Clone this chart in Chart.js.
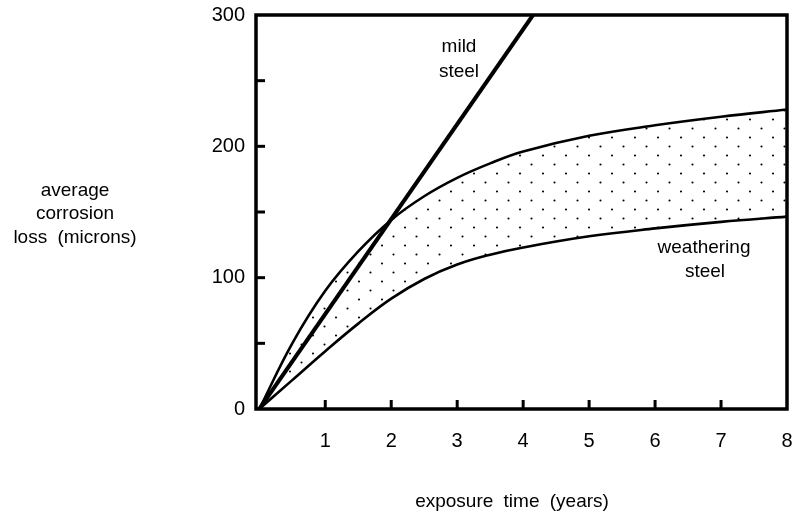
<!DOCTYPE html>
<html><head><meta charset="utf-8">
<script src="https://cdn.jsdelivr.net/npm/chart.js@4"></script>
<style>html,body{margin:0;padding:0;background:#fff}#wrap{width:797px;height:516px;position:relative}canvas{display:block}</style>
</head><body><div id="wrap"><canvas id="c" width="797" height="516"></canvas></div>
<script>
const years = [0, 0.5, 1, 1.5, 2, 2.5, 3, 3.5, 4, 5, 6, 7, 8];
const weatheringUpper = [0, 50, 90, 120, 144, 162, 176, 187, 196, 208, 216, 222.5, 228];
const weatheringLower = [0, 22, 44, 65, 84, 99, 110, 117.5, 123, 131.5, 137.5, 142.5, 146.5];
const mildYears = [0, 4.15];
const mildSteel = [0, 300];
const xTickLabels = [1, 2, 3, 4, 5, 6, 7, 8];
const yTickLabels = [0, 100, 200, 300];
const yTitleLines = ['average', 'corrosion', 'loss (microns)'];
const xTitle = 'exposure time (years)';
const mildLabel = ['mild', 'steel'];
const weatherLabel = ['weathering', 'steel'];

const TEXT_FONT = '19px "Liberation Sans", Arial, sans-serif';
const TICK_FONT_FAMILY = '"Liberation Sans Narrow", "Liberation Sans", Arial, sans-serif';

function stipple() {
  const c = document.createElement('canvas');
  c.width = 23; c.height = 18;
  const g = c.getContext('2d');
  g.fillStyle = '#000';
  g.beginPath(); g.arc(2.5, 2.5, 1.05, 0, Math.PI * 2); g.fill();
  g.beginPath(); g.arc(14, 11.5, 1.05, 0, Math.PI * 2); g.fill();
  return document.getElementById('c').getContext('2d').createPattern(c, 'repeat');
}

const toXY = (xs, ys) => xs.map((v, i) => ({ x: v, y: ys[i] }));

const decor = {
  id: 'decor',
  afterDatasetsDraw(chart) {
    const { ctx, chartArea: a, scales: { x, y } } = chart;
    ctx.save();
    ctx.strokeStyle = '#000';
    ctx.lineCap = 'butt';
    ctx.lineWidth = 3.5;
    ctx.strokeRect(a.left, a.top, a.right - a.left, a.bottom - a.top);
    ctx.lineWidth = 3;
    y.ticks.forEach(t => {
      if (t.value <= y.min || t.value >= y.max) return;
      const py = y.getPixelForValue(t.value);
      ctx.beginPath(); ctx.moveTo(a.left, py); ctx.lineTo(a.left + 9, py); ctx.stroke();
    });
    x.ticks.forEach(t => {
      if (t.value <= 0 || t.value >= x.max) return;
      const px = x.getPixelForValue(t.value);
      ctx.beginPath(); ctx.moveTo(px, a.bottom); ctx.lineTo(px, a.bottom - 9); ctx.stroke();
    });
    ctx.fillStyle = '#000';
    ctx.font = TEXT_FONT;
    try { ctx.wordSpacing = '5px'; } catch (e) {}
    ctx.textAlign = 'center';
    ctx.textBaseline = 'alphabetic';
    [196, 219, 243].forEach((by, i) => ctx.fillText(yTitleLines[i], 75, by));
    ctx.fillText(xTitle, 512, 507);
    ctx.fillText(mildLabel[0], 459, 52);
    ctx.fillText(mildLabel[1], 459, 77);
    ctx.fillText(weatherLabel[0], 704, 253);
    ctx.fillText(weatherLabel[1], 705, 277);
    ctx.restore();
  }
};

new Chart(document.getElementById('c'), {
  type: 'line',
  data: {
    datasets: [
      {
        label: 'weathering steel (upper)',
        data: toXY(years, weatheringUpper),
        borderColor: '#000', borderWidth: 2.6,
        pointRadius: 0, fill: false, tension: 0.4
      },
      {
        label: 'weathering steel (lower)',
        data: toXY(years, weatheringLower),
        borderColor: '#000', borderWidth: 2.6,
        pointRadius: 0, fill: '-1',
        backgroundColor: stipple(), tension: 0.4
      },
      {
        label: 'mild steel',
        data: toXY(mildYears, mildSteel),
        borderColor: '#000', borderWidth: 4,
        pointRadius: 0, fill: false, tension: 0
      }
    ]
  },
  options: {
    responsive: false,
    animation: false,
    events: [],
    layout: { padding: { left: 0, right: 10, top: 15, bottom: 0 } },
    plugins: { legend: { display: false }, tooltip: { enabled: false }, title: { display: false } },
    scales: {
      x: {
        type: 'linear', min: -0.05, max: 8,
        grid: { display: false, drawTicks: true, tickLength: 20 },
        border: { display: false },
        afterFit: s => { s.height = 107; },
        ticks: {
          stepSize: 1, includeBounds: false, autoSkip: false, maxRotation: 0,
          padding: 0, color: '#000',
          font: { family: TICK_FONT_FAMILY, size: 20 },
          callback: v => xTickLabels.includes(v) ? String(v) : ''
        }
      },
      y: {
        type: 'linear', min: 0, max: 300,
        grid: { display: false, drawTicks: true, tickLength: 11 },
        border: { display: false },
        afterFit: s => { s.width = 256; },
        ticks: {
          stepSize: 50, autoSkip: false, padding: 0, color: '#000',
          font: { family: TICK_FONT_FAMILY, size: 20 },
          callback: v => yTickLabels.includes(v) ? String(v) : ''
        }
      }
    }
  },
  plugins: [decor]
});
</script>
</body></html>
